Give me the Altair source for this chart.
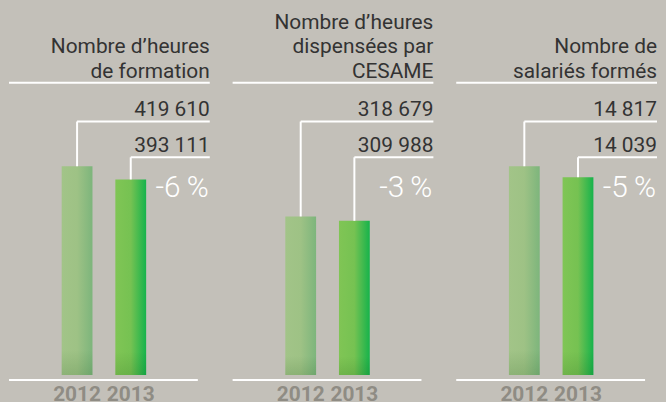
import altair as alt
import pandas as pd

# ---- data ----
titles = [
    "Nombre d’heures\nde formation",
    "Nombre d’heures\ndispensées par\nCESAME",
    "Nombre de\nsalariés formés",
]
years = ["2012", "2013"]
values_2012 = [419610, 318679, 14817]
values_2013 = [393111, 309988, 14039]
scale_group = ["heures", "heures", "salariés"]

# ---- style ----
W = 202
H = 374
BG = "#c3c0b9"
FONT = "Roboto"
TXT = "#333333"
WHITE = "#ffffff"


def fmt(v):
    return f"{v:,}".replace(",", " ")


group_max = {}
for g, a, b in zip(scale_group, values_2012, values_2013):
    group_max[g] = max(group_max.get(g, 0), a, b)

grad_2012 = alt.Gradient(
    gradient="linear",
    stops=[
        alt.GradientStop(color="#a2c488", offset=0),
        alt.GradientStop(color="#9ec285", offset=0.5),
        alt.GradientStop(color="#7db57c", offset=1),
    ],
    x1=0, x2=1, y1=0, y2=0,
)
grad_2013 = alt.Gradient(
    gradient="linear",
    stops=[
        alt.GradientStop(color="#80c555", offset=0),
        alt.GradientStop(color="#76c252", offset=0.5),
        alt.GradientStop(color="#16b34b", offset=1),
    ],
    x1=0, x2=1, y1=0, y2=0,
)
shade = alt.Gradient(
    gradient="linear",
    stops=[
        alt.GradientStop(color="rgba(0,60,0,0)", offset=0),
        alt.GradientStop(color="rgba(0,60,0,0)", offset=0.88),
        alt.GradientStop(color="rgba(0,60,0,0.13)", offset=1),
    ],
    x1=0, x2=0, y1=0, y2=1,
)

AXIS = alt.Axis(
    title=None, domain=False, ticks=False, labelAngle=0,
    labelFont=FONT, labelFontSize=21, labelFontWeight="bold",
    labelColor="#8f8c84", labelPadding=3,
)
XSCALE = alt.Scale(domain=years, range=[53, 138], paddingInner=0.426, paddingOuter=0)


def panel(i):
    df = pd.DataFrame({"year": years, "value": [values_2012[i], values_2013[i]]})
    df["label"] = df["value"].map(fmt)
    pct = round((values_2013[i] - values_2012[i]) / values_2012[i] * 100)
    pct_df = pd.DataFrame({"t": [f"{pct}\u2009%"]})
    title_df = pd.DataFrame({"t": [titles[i]]})
    n_lines = titles[i].count("\n") + 1

    x = alt.X("year:N", bandPosition=0.5, scale=XSCALE, axis=AXIS)
    xb = alt.X("year:N", scale=XSCALE, axis=AXIS)
    y = alt.Y(
        "value:Q",
        scale=alt.Scale(domain=[0, group_max[scale_group[i]]], range=[368, 158], nice=False),
        axis=None,
    )
    base = alt.Chart(df)
    d12 = base.transform_filter(alt.datum.year == "2012")
    d13 = base.transform_filter(alt.datum.year == "2013")

    bar12 = d12.mark_bar(fill=grad_2012).encode(x=xb, y=y)
    bar13 = d13.mark_bar(fill=grad_2013).encode(x=xb, y=y)
    shade_l = base.mark_bar(fill=shade).encode(x=xb, y=y)

    vc12 = d12.mark_rule(color=WHITE, strokeWidth=2).encode(x=x, y=y, y2=alt.value(113))
    vc13 = d13.mark_rule(color=WHITE, strokeWidth=2).encode(x=x, y=y, y2=alt.value(149))
    hc12 = d12.mark_rule(color=WHITE, strokeWidth=2).encode(x=x, x2=alt.value(W), y=alt.value(113))
    hc13 = d13.mark_rule(color=WHITE, strokeWidth=2).encode(x=x, x2=alt.value(W), y=alt.value(149))

    lab12 = d12.mark_text(align="right", baseline="alphabetic", font=FONT, fontSize=21, color=TXT).encode(
        x=alt.value(W), y=alt.value(107), text="label:N")
    lab13 = d13.mark_text(align="right", baseline="alphabetic", font=FONT, fontSize=21, color=TXT).encode(
        x=alt.value(W), y=alt.value(144), text="label:N")

    pct_t = alt.Chart(pct_df).mark_text(
        align="right", baseline="alphabetic", font=FONT, fontSize=30, fontWeight=300, color=WHITE
    ).encode(x=alt.value(W - 1), y=alt.value(189), text="t:N")

    title_t = alt.Chart(title_df).mark_text(
        align="right", baseline="alphabetic", font=FONT, fontSize=21, color=TXT,
        lineBreak="\n", lineHeight=24.5,
    ).encode(x=alt.value(W), y=alt.value(69 - (n_lines - 1) * 24.5), text="t:N")

    title_rule = alt.Chart(title_df).mark_rule(color=WHITE, strokeWidth=2).encode(
        x=alt.value(0), x2=alt.value(W), y=alt.value(74))
    base_rule = alt.Chart(title_df).mark_rule(color=WHITE, strokeWidth=2).encode(
        x=alt.value(0), x2=alt.value(190), y=alt.value(373))

    return alt.layer(
        bar12, bar13, shade_l, vc12, vc13, hc12, hc13, lab12, lab13,
        pct_t, title_t, title_rule, base_rule,
    ).properties(width=W, height=H)


chart = (
    alt.hconcat(panel(0), panel(1), panel(2), spacing=21)
    .properties(padding=0, background=BG)
    .configure_view(stroke=None)
)

chart.save(
    "out.html",
    embed_options={
        "renderer": "svg",
        "actions": False,
        "defaultStyle": "html,body{background:%s;overflow:hidden}" % BG,
    },
)
